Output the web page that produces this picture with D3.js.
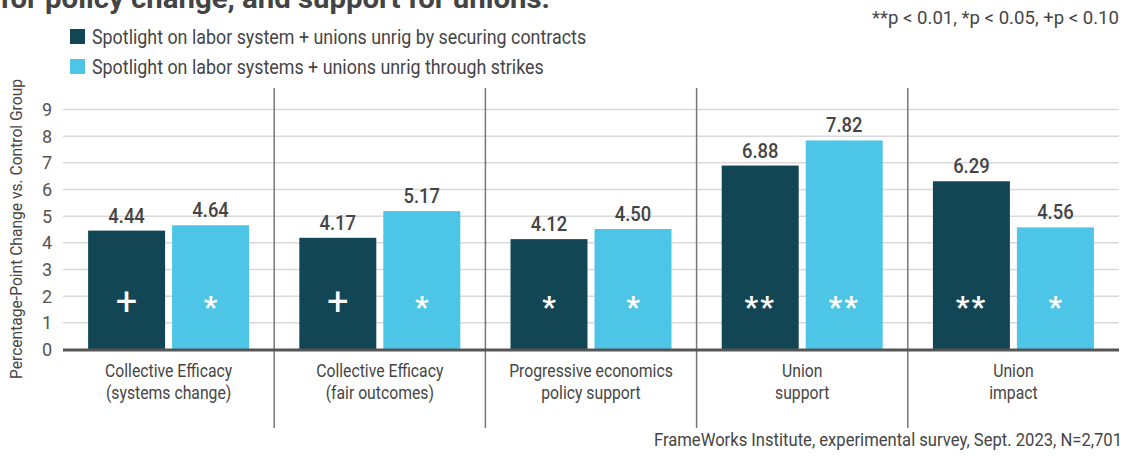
<!DOCTYPE html>
<html>
<head>
<meta charset="utf-8">
<script src="https://cdn.jsdelivr.net/npm/d3@7"></script>
<style>
  html, body { margin: 0; padding: 0; background: #fff; }
  svg { display: block; }
  text { font-family: Roboto, "Liberation Sans", sans-serif; }
</style>
</head>
<body>
<svg id="chart" width="1128" height="456"></svg>
<script>
const categories = [
  ["Collective Efficacy", "(systems change)"],
  ["Collective Efficacy", "(fair outcomes)"],
  ["Progressive economics", "policy support"],
  ["Union", "support"],
  ["Union", "impact"]
];
const seriesNames = [
  "Spotlight on labor system + unions unrig by securing contracts",
  "Spotlight on labor systems + unions unrig through strikes"
];
const contractsValues = [4.44, 4.17, 4.12, 6.88, 6.29];
const strikesValues = [4.64, 5.17, 4.50, 7.82, 4.56];
const contractsSig = ["+", "+", "*", "**", "**"];
const strikesSig = ["*", "*", "*", "**", "*"];
const yTicks = [0, 1, 2, 3, 4, 5, 6, 7, 8, 9];
const titleText = "for policy change, and support for unions.";
const noteText = "**p < 0.01, *p < 0.05, +p < 0.10";
const sourceText = "FrameWorks Institute, experimental survey, Sept. 2023, N=2,701";
const yTitle = "Percentage-Point Change vs. Control Group";

const colors = ["#134654", "#4dc5e6"];
const textColor = "#454545";

const svg = d3.select("#chart");
const left = 63, right = 1119;

const catKeys = categories.map((c, i) => i);
const x0 = d3.scaleBand().domain(catKeys).range([left, right]).padding(0);
const x1 = d3.scaleBand().domain([0, 1]).range([0, x0.bandwidth()])
  .paddingInner(0.0833).paddingOuter(0.299);
const y = d3.scaleLinear().domain([0, 9]).range([349, 109]);

const data = catKeys.map(i => ({
  i,
  vals: [
    { s: 0, v: contractsValues[i], sig: contractsSig[i] },
    { s: 1, v: strikesValues[i], sig: strikesSig[i] }
  ]
}));

// condense text horizontally (keeps it as real text)
function fit(sel, w) {
  sel.attr("textLength", w).attr("lengthAdjust", "spacingAndGlyphs");
}
function squeeze(sel, ratio) {
  sel.each(function () {
    const w = this.getComputedTextLength();
    d3.select(this).attr("textLength", w * ratio).attr("lengthAdjust", "spacingAndGlyphs");
  });
}

// Title (partially cut off at top, as in the reference)
svg.append("text").attr("x", 0).attr("y", 8)
  .attr("font-weight", 700).attr("font-size", 27).attr("fill", "#444")
  .text(titleText).call(fit, 550);

// Note
svg.append("text").attr("x", 1119).attr("y", 24)
  .attr("text-anchor", "end").attr("font-size", 19).attr("fill", textColor)
  .text(noteText).call(fit, 247);

// Legend
const leg = svg.append("g");
seriesNames.forEach((n, k) => {
  const g = leg.append("g").attr("transform", `translate(70,${29 + k * 30})`);
  g.append("rect").attr("width", 15).attr("height", 15).attr("fill", colors[k]);
  g.append("text").attr("x", 22).attr("y", 15)
    .attr("font-size", 21).attr("fill", textColor).text(n).call(squeeze, 0.85);
});

// Gridlines + y tick labels
const yAxis = d3.axisLeft(y).tickValues(yTicks).tickSize(-(right - left)).tickPadding(11);
const ga = svg.append("g").attr("transform", `translate(${left},0)`).call(yAxis);
ga.select(".domain").remove();
ga.selectAll(".tick line").attr("stroke", "#d9d9d9").attr("stroke-width", 1.5)
  .filter(d => d === 0).remove();
ga.selectAll(".tick text").attr("font-size", 18).attr("font-family", "Roboto, sans-serif")
  .attr("fill", "#555").attr("dy", "0.36em");

// Y title
svg.append("text")
  .attr("transform", `translate(22,${(y(0) + y(9)) / 2}) rotate(-90)`)
  .attr("text-anchor", "middle").attr("font-size", 17).attr("fill", textColor)
  .text(yTitle).call(fit, 300);

// Dividers
svg.append("g").selectAll("line").data(catKeys.slice(1)).join("line")
  .attr("x1", d => x0(d)).attr("x2", d => x0(d))
  .attr("y1", 88).attr("y2", 428)
  .attr("stroke", "#777").attr("stroke-width", 1.5);

// Bars
const groups = svg.append("g").selectAll("g").data(data).join("g")
  .attr("transform", d => `translate(${x0(d.i)},0)`);

groups.selectAll("rect").data(d => d.vals).join("rect")
  .attr("x", d => x1(d.s)).attr("width", x1.bandwidth())
  .attr("y", d => y(d.v)).attr("height", d => y(0) - y(d.v))
  .attr("fill", d => colors[d.s]);

groups.selectAll("text.val").data(d => d.vals).join("text")
  .attr("class", "val")
  .attr("x", d => x1(d.s) + x1.bandwidth() / 2)
  .attr("y", d => y(d.v) - 8)
  .attr("text-anchor", "middle").attr("font-size", 20).attr("font-weight", 500)
  .attr("fill", "#444").text(d => d.v.toFixed(2)).call(squeeze, 0.92);

groups.selectAll("text.sig").data(d => d.vals).join("text")
  .attr("class", "sig")
  .attr("x", d => x1(d.s) + x1.bandwidth() / 2)
  .attr("y", d => d.sig === "+" ? y(0) - 34 : y(0) - 32)
  .attr("text-anchor", "middle")
  .attr("font-family", "'Liberation Sans', Arial, sans-serif")
  .attr("font-size", d => d.sig === "+" ? 38 : 30)
  .attr("font-weight", d => d.sig === "+" ? 400 : 700)
  .attr("letter-spacing", d => d.sig === "**" ? 2 : 0)
  .attr("fill", "#fff").text(d => d.sig);

// Baseline
svg.append("line").attr("x1", left).attr("x2", right)
  .attr("y1", y(0) + 1).attr("y2", y(0) + 1)
  .attr("stroke", "#555").attr("stroke-width", 3);

// Category labels (two lines each)
const catG = svg.append("g").selectAll("g").data(data).join("g");
catG.selectAll("text").data(d => categories[d.i].map((t, k) => ({ t, k, i: d.i }))).join("text")
  .attr("x", d => x0(d.i) + x0.bandwidth() / 2)
  .attr("y", d => 376.5 + d.k * 22.5)
  .attr("text-anchor", "middle").attr("font-size", 18).attr("fill", textColor)
  .text(d => d.t).call(squeeze, 0.875);

// Source
svg.append("text").attr("x", 1122).attr("y", 446)
  .attr("text-anchor", "end").attr("font-size", 18).attr("fill", textColor)
  .text(sourceText).call(fit, 468);
</script>
</body>
</html>
